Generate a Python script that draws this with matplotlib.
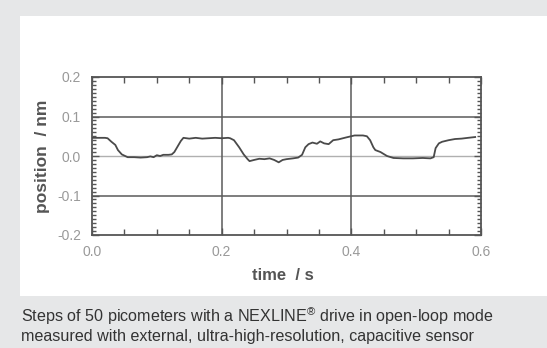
import matplotlib
matplotlib.use("Agg")
import matplotlib.pyplot as plt
from matplotlib.patches import Rectangle
from matplotlib.ticker import MultipleLocator

plt.rcParams['font.family'] = ['Liberation Sans', 'DejaVu Sans']
plt.rcParams['mathtext.fontset'] = 'custom'
plt.rcParams['mathtext.rm'] = 'Liberation Sans'

# Data
time_s = [0.000, 0.010, 0.020, 0.024, 0.030, 0.036, 0.040, 0.046, 0.055, 0.065,
          0.075, 0.085, 0.090, 0.095, 0.100, 0.105, 0.110, 0.118, 0.123, 0.127,
          0.132, 0.137, 0.141, 0.150, 0.160, 0.170, 0.180, 0.190, 0.200, 0.210,
          0.213, 0.219, 0.227, 0.234, 0.240, 0.243, 0.250, 0.258, 0.266, 0.274,
          0.281, 0.288, 0.294, 0.300, 0.310, 0.318, 0.324, 0.329, 0.334, 0.340,
          0.347, 0.352, 0.358, 0.365, 0.372, 0.380, 0.392, 0.405, 0.418, 0.424,
          0.429, 0.434, 0.437, 0.445, 0.455, 0.465, 0.480, 0.495, 0.510, 0.522,
          0.527, 0.530, 0.535, 0.540, 0.550, 0.560, 0.570, 0.580, 0.591]
position_nm = [0.046, 0.046, 0.046, 0.045, 0.036, 0.028, 0.015, 0.004, -0.003, -0.003,
               -0.004, -0.003, -0.001, -0.003, 0.002, 0.000, 0.003, 0.003, 0.004, 0.010,
               0.024, 0.038, 0.046, 0.044, 0.046, 0.044, 0.045, 0.046, 0.045, 0.046,
               0.045, 0.040, 0.022, 0.004, -0.008, -0.013, -0.010, -0.007, -0.008, -0.006,
               -0.010, -0.016, -0.010, -0.008, -0.006, -0.004, 0.003, 0.022, 0.030, 0.034,
               0.031, 0.037, 0.032, 0.030, 0.040, 0.042, 0.047, 0.052, 0.052, 0.050,
               0.040, 0.022, 0.015, 0.010, 0.000, -0.005, -0.006, -0.006, -0.005, -0.006,
               -0.003, 0.020, 0.032, 0.036, 0.040, 0.043, 0.044, 0.046, 0.048]

x_ticks = [0.0, 0.2, 0.4, 0.6]
x_tick_labels = ['0.0', '0.2', '0.4', '0.6']
y_ticks = [-0.2, -0.1, 0.0, 0.1, 0.2]
y_tick_labels = ['-0.2', '-0.1', '0.0', '0.1', '0.2']

W, H = 547, 348
fig = plt.figure(figsize=(W / 100, H / 100), dpi=100, facecolor='#e6e7e8')

# white panel
fig.patches.append(Rectangle((20 / W, 1 - 296 / H), 1 - 20 / W, 280 / H,
                             transform=fig.transFigure, facecolor='white',
                             edgecolor='none', zorder=-10))

ax = fig.add_axes([92 / W, 1 - 235 / H, (481 - 92) / W, (235 - 77) / H])
ax.set_zorder(5)
ax.set_facecolor('white')

# grid lines
for yv in (-0.1, 0.1):
    ax.axhline(yv, color='#5a5a5a', lw=1.1, zorder=1)
ax.axhline(0.0, color='#b0b0b0', lw=1.0, zorder=1)
for xv in (0.2, 0.4):
    ax.axvline(xv, color='#5a5a5a', lw=1.1, zorder=1)

ax.plot(time_s, position_nm, color='#4a4a4a', lw=1.3, zorder=3)

ax.set_xlim(0, 0.6)
ax.set_ylim(-0.2, 0.2)
ax.set_xticks(x_ticks)
ax.set_xticklabels(x_tick_labels)
ax.set_yticks(y_ticks)
ax.set_yticklabels(y_tick_labels)
ax.xaxis.set_minor_locator(MultipleLocator(0.05))
ax.yaxis.set_minor_locator(MultipleLocator(0.01))

ax.tick_params(axis='both', which='both', direction='in', top=True, right=True,
               color='#555555', labelcolor='#999999', labelsize=10)
ax.tick_params(axis='x', which='major', length=5, width=1.0, pad=7)
ax.tick_params(axis='x', which='minor', length=4, width=1.0)
ax.tick_params(axis='y', which='major', length=5, width=1.0, pad=8)
ax.tick_params(axis='y', which='minor', length=3, width=1.0)

for s in ax.spines.values():
    s.set_color('#555555')
    s.set_linewidth(1.3)

ax.set_xlabel('time  / s', fontsize=12, fontweight='bold', color='#555555')
ax.set_ylabel('position  / nm', fontsize=12.5, fontweight='bold', color='#555555')
ax.xaxis.set_label_coords((283 - 92) / 389, (235 - 276) / 158)
ax.yaxis.set_label_coords((43 - 92) / 389, 0.5)
ax.xaxis.label.set_va('center')
ax.yaxis.label.set_va('center')

fig.text(21 / W, 1 - 316 / H, 'Steps of 50 picometers with a NEXLINE$^{\\circledR}$ drive in open-loop mode',
         fontsize=11.6, color='#333333', va='center', ha='left')
fig.text(21 / W, 1 - 337 / H, 'measured with external, ultra-high-resolution, capacitive sensor',
         fontsize=11.6, color='#333333', va='center', ha='left')

fig.savefig('out.png', dpi=100, facecolor=fig.get_facecolor())
